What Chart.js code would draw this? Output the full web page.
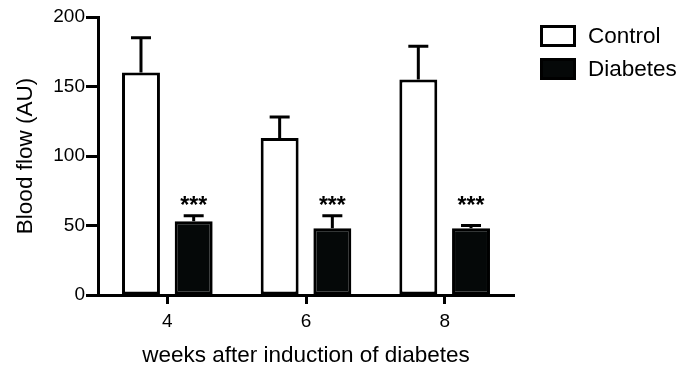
<!DOCTYPE html>
<html>
<head>
<meta charset="utf-8">
<script src="https://cdn.jsdelivr.net/npm/chart.js@4"></script>
<style>
    html, body {margin: 0; padding: 0; background: #fff;}
    #wrap {width: 681px; height: 369px;}
</style>
</head>
<body>
<div id="wrap"><canvas id="chart" width="681" height="369"></canvas></div>
<script>
// values
const weeks = ['4', '6', '8'];
const controlMean = [160, 113, 155];
const controlErr = [25, 15, 24];
const diabetesMean = [53, 48, 48];
const diabetesErr = [4, 9, 2];
const significance = ['***', '***', '***'];
const yTicks = [0, 50, 100, 150, 200];

const FONT = "'Liberation Sans', Arial, sans-serif";

// draws the upper error whisker on top of each bar
const errorBars = {
    id: 'errorBars',
    afterDatasetsDraw(chart) {
        const ctx = chart.ctx;
        const yScale = chart.scales.y;
        chart.data.datasets.forEach((ds, i) => {
            const meta = chart.getDatasetMeta(i);
            meta.data.forEach((bar, j) => {
                let top = yScale.getPixelForValue(ds.data[j] + ds.errors[j]);
                ctx.save();
                ctx.strokeStyle = '#000';
                ctx.lineWidth = 3;
                ctx.beginPath();
                ctx.moveTo(bar.x, bar.y);
                ctx.lineTo(bar.x, top);
                ctx.moveTo(bar.x - 10, top);
                ctx.lineTo(bar.x + 10, top);
                ctx.stroke();
                ctx.restore();
            });
        });
    }
};

// stars above the diabetes bars
const stars = {
    id: 'stars',
    afterDatasetsDraw(chart, args, opts) {
        const ctx = chart.ctx;
        const meta = chart.getDatasetMeta(1);
        const y = chart.scales.y.getPixelForValue(opts.level);
        ctx.save();
        ctx.fillStyle = '#000';
        ctx.font = 'bold 23px ' + FONT;
        ctx.textAlign = 'center';
        ctx.textBaseline = 'alphabetic';
        meta.data.forEach((bar, j) => {
            ctx.fillText(significance[j], bar.x, y + 10);
        });
        ctx.restore();
    }
};

// legend drawn to the right like the original figure
const sideLegend = {
    id: 'sideLegend',
    afterDraw(chart) {
        const ctx = chart.ctx;
        ctx.save();
        chart.data.datasets.forEach((ds, i) => {
            let top = 25 + i * 33;
            ctx.fillStyle = ds.backgroundColor;
            ctx.fillRect(541, top + 1, 34, 20);
            ctx.strokeStyle = '#000';
            ctx.lineWidth = 3;
            ctx.strokeRect(541.5, top + 1.5, 33, 19);
            ctx.fillStyle = '#000';
            ctx.font = '22.5px ' + FONT;
            ctx.textAlign = 'left';
            ctx.textBaseline = 'middle';
            ctx.fillText(ds.label, 588, top + 12);
        });
        ctx.restore();
    }
};

new Chart(document.getElementById('chart'), {
    type: 'bar',
    data: {
        labels: weeks,
        datasets: [
            {
                label: 'Control',
                data: controlMean,
                errors: controlErr,
                backgroundColor: '#ffffff',
                borderColor: '#000000',
                borderWidth: 3,
                borderSkipped: false,
                categoryPercentage: 0.76,
                barPercentage: 0.72
            },
            {
                label: 'Diabetes',
                data: diabetesMean,
                errors: diabetesErr,
                backgroundColor: '#050808',
                borderColor: '#000000',
                borderWidth: 3,
                borderSkipped: false,
                categoryPercentage: 0.76,
                barPercentage: 0.72
            }
        ]
    },
    options: {
        responsive: false,
        animation: false,
        devicePixelRatio: 1,
        layout: {padding: {top: 17, right: 167, left: 0, bottom: 0}},
        plugins: {
            legend: {display: false},
            tooltip: {enabled: false},
            stars: {level: 66}
        },
        scales: {
            x: {
                grid: {
                    offset: false,
                    drawOnChartArea: false,
                    tickLength: 9,
                    tickWidth: 3,
                    tickColor: '#000'
                },
                border: {display: true, width: 3, color: '#000'},
                ticks: {color: '#000', font: {family: FONT, size: 19}, padding: 6},
                title: {
                    display: true,
                    text: 'weeks after induction of diabetes',
                    color: '#000',
                    font: {family: FONT, size: 22.5},
                    padding: {top: 0, bottom: 0}
                },
                afterFit(scale) {
                    scale.height = 74;
                }
            },
            y: {
                min: 0,
                max: 200,
                afterBuildTicks(scale) {
                    scale.ticks = yTicks.map(v => ({value: v}));
                },
                grid: {
                    drawOnChartArea: false,
                    tickLength: 12,
                    tickWidth: 3,
                    tickColor: '#000'
                },
                border: {display: true, width: 3, color: '#000'},
                ticks: {color: '#000', font: {family: FONT, size: 19}, padding: 1},
                title: {
                    display: true,
                    text: 'Blood flow (AU)',
                    color: '#000',
                    font: {family: FONT, size: 22.5},
                    padding: {top: 12, bottom: 0}
                },
                afterFit(scale) {
                    scale.width = 98;
                }
            }
        }
    },
    plugins: [errorBars, stars, sideLegend]
});
</script>
</body>
</html>
